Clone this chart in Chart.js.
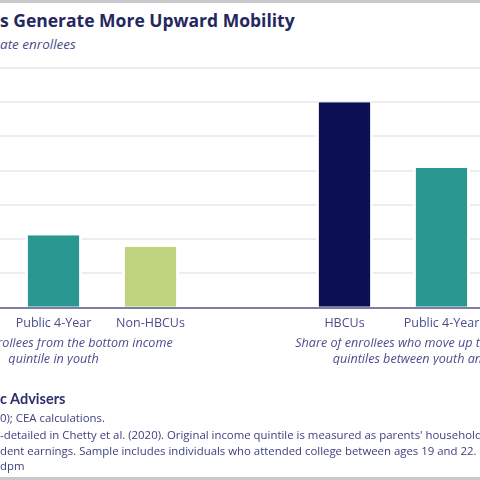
<!DOCTYPE html>
<html lang="en">
<head>
    <meta charset="UTF-8">
    <title>HBCUs Generate More Upward Mobility</title>
    <script src="https://cdn.jsdelivr.net/npm/chart.js"></script>
    <style>
        body {
            margin: 0;
            width: 480px;
            height: 480px;
            overflow: hidden;
            position: relative;
            background: #fff;
            font-family: "Open Sans", Lato, sans-serif;
            color: #34367a;
        }

        .frame-top, .frame-bottom {
            position: absolute;
            left: 0;
            width: 480px;
            height: 3px;
            background: #c9c9cc;
        }
        .frame-top { top: 0; }
        .frame-bottom { bottom: 0; }

        .line {
            position: absolute;
            left: 0;
            white-space: nowrap;
        }

        /* the part of each line that falls left of the visible crop */
        .pre {
            position: absolute;
            right: 100%;
        }

        #title {
            top: 8px;
            font-size: 17.5px;
            font-weight: bold;
            color: #25275f;
        }

        #subtitle {
            top: 35px;
            font-size: 13.5px;
            font-style: italic;
            color: #4b4d8c;
        }

        #chartBox {
            position: absolute;
            left: -92px;
            top: 60px;
            width: 679px;
            height: 340px;
        }

        .foot { font-size: 11.4px; color: #3d3f80; }
        #org { top: 390px; font-family: Lato, sans-serif; font-size: 14.5px; font-weight: bold; color: #2c2e6e; }
        #src { top: 410px; }
        #note1 { top: 427px; }
        #note2 { top: 443px; }
        #note3 { top: 458px; }
    </style>
</head>
<body>
<div class="frame-top"></div>
<div class="line" id="title"><span class="pre">HBCU</span>s Generate More Upward Mobility</div>
<div class="line" id="subtitle"><span class="pre">Percent of undergradu</span>ate enrollees</div>

<div id="chartBox">
    <canvas id="mobilityChart" width="679" height="340"></canvas>
</div>

<div class="line" id="org"><span class="pre">Council of Economi</span>c Advisers</div>
<div class="line foot" id="src"><span class="pre">Source: Chetty et al. (202</span>0); CEA calculations.</div>
<div class="line foot" id="note1"><span class="pre">Note: Income quintiles are computed as</span>-detailed in Chetty et al. (2020). Original income quintile is measured as parents' household income</div>
<div class="line foot" id="note2"><span class="pre">and adult quintile by resi</span>dent earnings. Sample includes individuals who attended college between ages 19 and 22. Chetty</div>
<div class="line foot" id="note3"><span class="pre"></span>dpm</div>
<div class="frame-bottom"></div>

<script>
    const categories = ['HBCUs', 'Public 4-Year', 'Non-HBCUs', '', 'HBCUs', 'Public 4-Year', 'Non-HBCUs'];
    const groupLabels = [
        '',
        ['Share of enrollees from the bottom income', 'quintile in youth'],
        '', '', '',
        ['Share of enrollees who move up two or more income', 'quintiles between youth and adulthood'],
        ''
    ];
    // percent of enrollees; the first and last bars sit outside the cropped view
    const shareValues = [null, 10.6, 8.9, null, 30.0, 20.4, null];
    const barColors = ['#0b1052', '#2b9791', '#c0d47f', '#ffffff', '#0b1052', '#2b9791', '#c0d47f'];

    const ctx = document.getElementById('mobilityChart').getContext('2d');

    new Chart(ctx, {
        type: 'bar',
        data: {
            labels: categories,
            datasets: [{
                data: shareValues,
                backgroundColor: barColors,
                borderColor: '#ffffff',
                borderWidth: { top: 0, left: 3, right: 3, bottom: 0 },
                borderSkipped: false,
                categoryPercentage: 1,
                barPercentage: 0.59
            }]
        },
        options: {
            responsive: false,
            animation: false,
            layout: { padding: { top: 8, bottom: 35 } },
            plugins: {
                legend: { display: false },
                tooltip: { enabled: false }
            },
            scales: {
                x: {
                    grid: { display: false, drawTicks: false },
                    border: { display: true, color: '#7d7ea3', width: 2 },
                    ticks: {
                        autoSkip: false,
                        maxRotation: 0,
                        minRotation: 0,
                        padding: 9,
                        color: '#4b4d8c',
                        font: { family: 'Open Sans', size: 12.5, lineHeight: 1.0 }
                    }
                },
                x2: {
                    type: 'category',
                    labels: groupLabels,
                    position: 'bottom',
                    offset: true,
                    grid: { display: false, drawTicks: false },
                    border: { display: false },
                    ticks: {
                        autoSkip: false,
                        maxRotation: 0,
                        minRotation: 0,
                        padding: -3,
                        color: '#4b4d8c',
                        font: { family: 'Open Sans', size: 12.6, style: 'italic', lineHeight: 1.3 }
                    }
                },
                y: {
                    min: 0,
                    max: 35,
                    ticks: { display: false, stepSize: 5 },
                    border: { display: false },
                    grid: { color: '#ececf4', lineWidth: 2, drawTicks: false }
                }
            }
        }
    });
</script>
</body>
</html>
